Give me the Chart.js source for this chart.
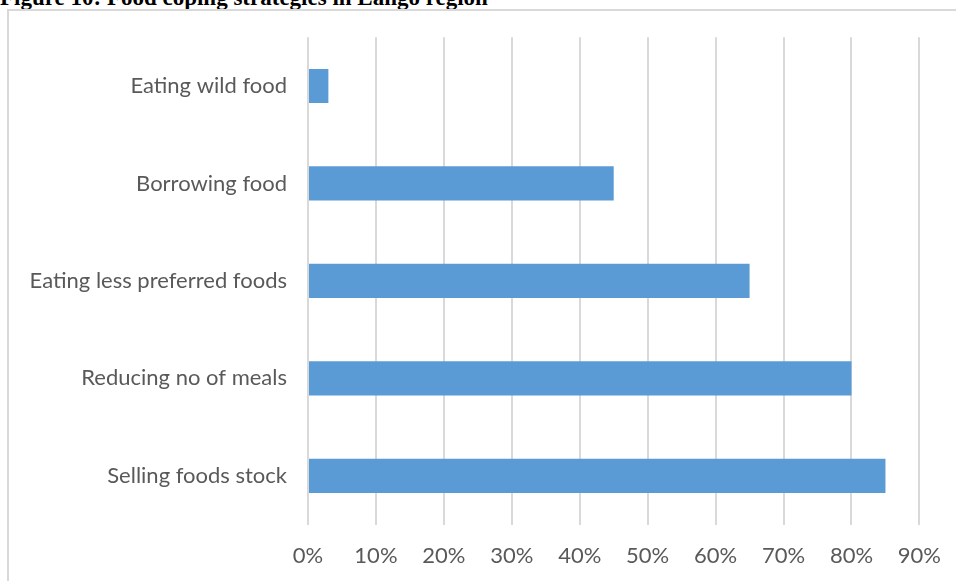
<!DOCTYPE html>
<html>
<head>
<meta charset="utf-8">
<script src="https://cdn.jsdelivr.net/npm/chart.js@4"></script>
<style>
  body { margin: 0; background: #fff; overflow: hidden; }
  #title {
    position: absolute; left: 0; top: -15px;
    font-family: "Liberation Serif", "DejaVu Serif", serif;
    font-weight: bold; font-size: 23px; color: #000; white-space: nowrap;
  }
  #box {
    position: absolute; left: 7px; top: 9px; width: 1000px; height: 600px;
    border: 2px solid #d9d9d9;
  }
  #wrap { position: absolute; left: 0; top: -8px; width: 950px; height: 603px; }
</style>
</head>
<body>
<div id="title">Figure 10: Food coping strategies in Lango region</div>
<div id="box"><div id="wrap"><canvas id="coping-chart"></canvas></div></div>
<script>
// categories top to bottom, share of households
const strategies = ["Eating wild food", "Borrowing food", "Eating less preferred foods",
  "Reducing no of meals", "Selling foods stock"];
const shares = [0.03, 0.45, 0.65, 0.80, 0.85];

new Chart(document.getElementById("coping-chart"), {
    type: 'bar',
    data: {
      labels: strategies,
      datasets: [
        {
          label: "Coping strategies",
          backgroundColor: "#5b9bd5",
          data: shares,
          barPercentage: 0.35,
          categoryPercentage: 1
        }
      ]
    },
    options: {
      indexAxis: 'y',
      responsive: true,
      maintainAspectRatio: false,
      animation: false,
      layout: { padding: { top: 10, left: 0, right: 22, bottom: 19 } },
      plugins: {
        legend: { display: false },
        tooltip: { enabled: false }
      },
      scales: {
        x: {
          min: 0,
          max: 0.9,
          ticks: {
            stepSize: 0.1,
            padding: 18,
            color: "#595959",
            font: { family: "Lato", size: 22 },
            callback: v => Math.round(v * 100) + "%"
          },
          grid: { color: "#d9d9d9", lineWidth: 2, drawTicks: false },
          border: { display: false }
        },
        y: {
          afterFit: scale => { scale.width = 299; },
          ticks: {
            padding: 21,
            color: "#595959",
            font: { family: "Lato", size: 22 }
          },
          grid: { display: false, drawTicks: false },
          border: { display: false }
        }
      }
    }
});
</script>
</body>
</html>
